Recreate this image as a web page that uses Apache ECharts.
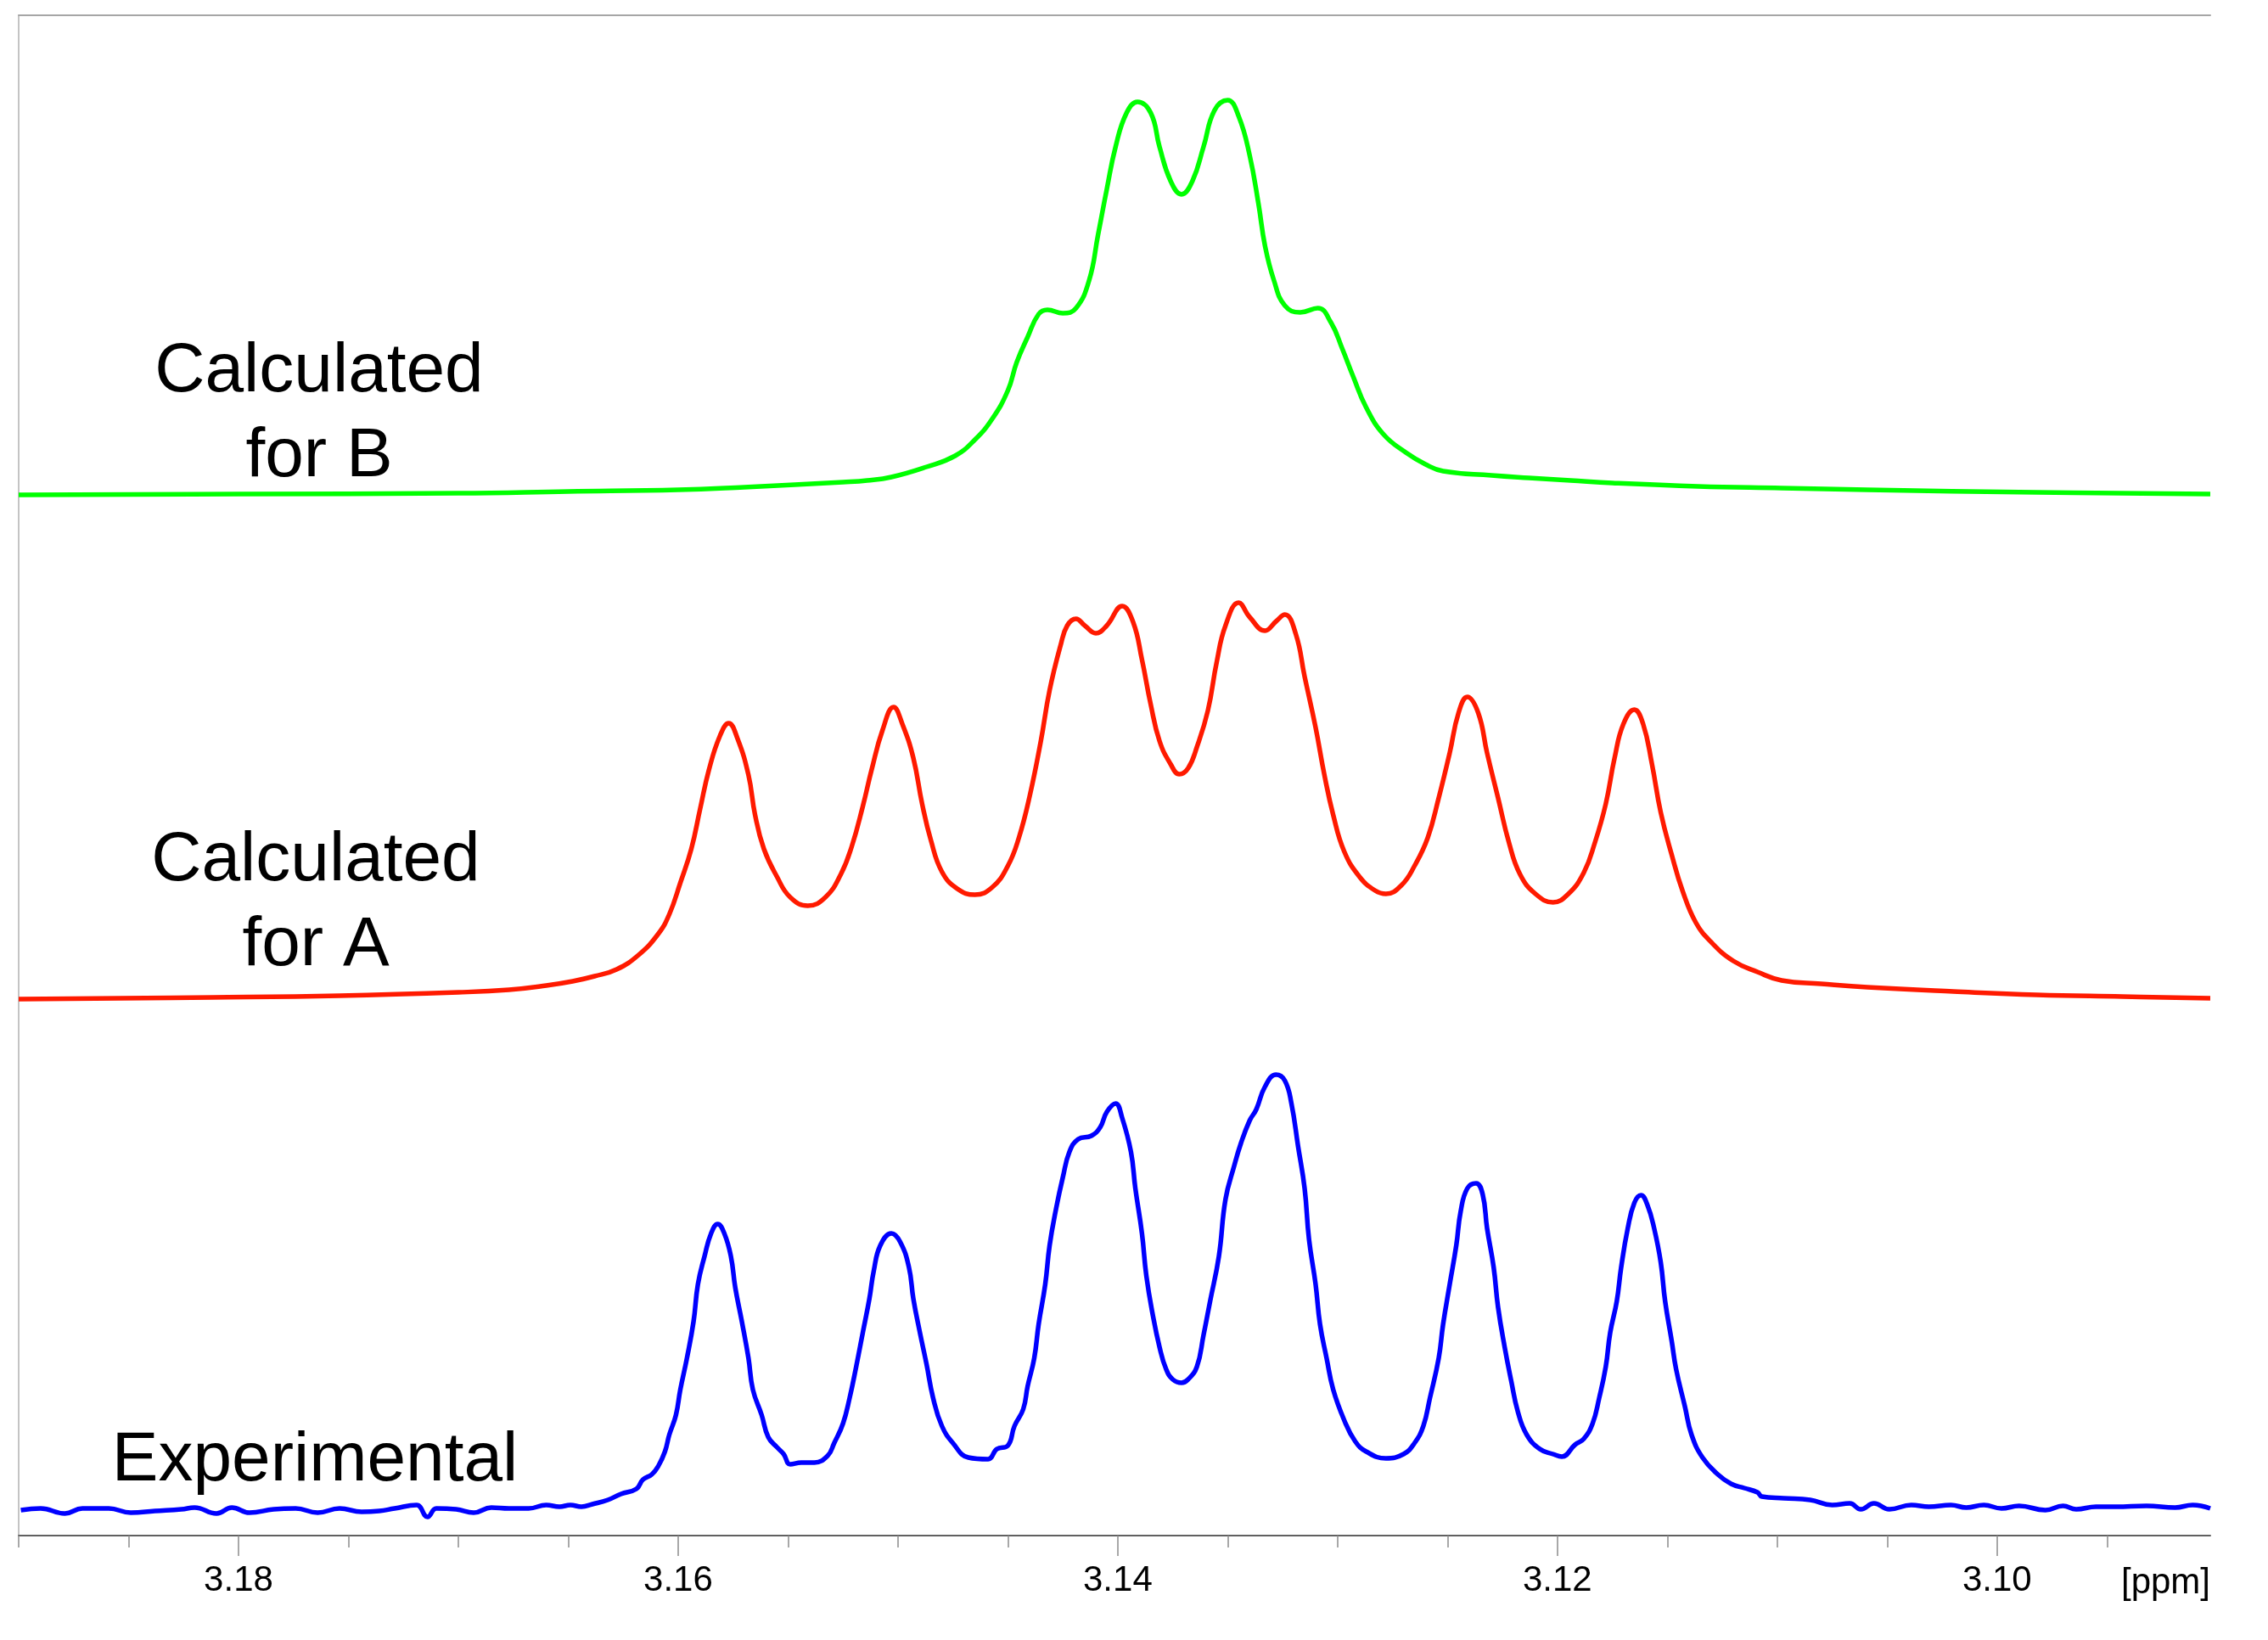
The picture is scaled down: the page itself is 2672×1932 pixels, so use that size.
<!DOCTYPE html>
<html>
<head>
<meta charset="utf-8">
<script src="https://cdn.jsdelivr.net/npm/echarts@6/dist/echarts.min.js"></script>
<style>
  html, body { margin: 0; padding: 0; background: #ffffff; }
  #chart { width: 2672px; height: 1932px; }
</style>
</head>
<body>
<div id="chart"></div>
<script>
// chemical shift axis (ppm, drawn reversed)
const ppmMin = 3.0903
const ppmMax = 3.19
const labelTicks = [3.18, 3.16, 3.14, 3.12, 3.10]
const minorTicks = [3.19, 3.185, 3.18, 3.175, 3.17, 3.165, 3.16, 3.155, 3.15, 3.145, 3.14,
  3.135, 3.13, 3.125, 3.12, 3.115, 3.11, 3.105, 3.10, 3.095]

// Calculated for B (green)
const calcBPpm = [3.1900, 3.1800, 3.1700, 3.1650, 3.1600, 3.1570, 3.1547, 3.1525, 3.1514, 3.1503,
  3.1487, 3.1474, 3.1465, 3.1457, 3.1450, 3.1446, 3.1441, 3.1436, 3.1432, 3.1425,
  3.1419, 3.1413, 3.1409, 3.1405, 3.1401, 3.1396, 3.1391, 3.1385, 3.1381, 3.1376,
  3.1371, 3.1366, 3.1361, 3.1356, 3.1350, 3.1345, 3.1340, 3.1336, 3.1333, 3.1329,
  3.1324, 3.1317, 3.1309, 3.1303, 3.1298, 3.1293, 3.1287, 3.1279, 3.1269, 3.1260,
  3.1252, 3.1230, 3.1213, 3.1194, 3.1175, 3.1136, 3.1098, 3.1059, 3.0982, 3.0903]
const calcBInt = [1, 2, 3, 5, 7, 10, 13, 16, 18, 22,
  34, 47, 66, 91, 124, 157, 187, 214, 219, 215,
  221, 254, 307, 361, 411, 451, 464, 451, 411, 371,
  355, 371, 411, 454, 466, 447, 401, 344, 294, 254,
  224, 216, 221, 204, 174, 141, 104, 72, 51, 37,
  29, 24, 21, 18, 15, 11, 9, 7, 4, 2]

// Calculated for A (red)
const calcAPpm = [3.1900, 3.1812, 3.1754, 3.1700, 3.1677, 3.1660, 3.1648, 3.1638, 3.1628, 3.1618,
  3.1609, 3.1604, 3.1599, 3.1594, 3.1590, 3.1586, 3.1581, 3.1577, 3.1573, 3.1568,
  3.1565, 3.1561, 3.1555, 3.1549, 3.1541, 3.1533, 3.1526, 3.1521, 3.1516, 3.1512,
  3.1507, 3.1502, 3.1498, 3.1493, 3.1489, 3.1485, 3.1480, 3.1473, 3.1465, 3.1457,
  3.1450, 3.1445, 3.1440, 3.1435, 3.1431, 3.1426, 3.1423, 3.1419, 3.1415, 3.1410,
  3.1405, 3.1398, 3.1393, 3.1389, 3.1385, 3.1381, 3.1376, 3.1372, 3.1368, 3.1364,
  3.1359, 3.1355, 3.1351, 3.1345, 3.1340, 3.1333, 3.1328, 3.1324, 3.1319, 3.1315,
  3.1310, 3.1306, 3.1302, 3.1297, 3.1290, 3.1283, 3.1278, 3.1271, 3.1265, 3.1259,
  3.1254, 3.1249, 3.1245, 3.1241, 3.1236, 3.1232, 3.1227, 3.1222, 3.1217, 3.1210,
  3.1202, 3.1195, 3.1188, 3.1183, 3.1178, 3.1174, 3.1170, 3.1165, 3.1161, 3.1157,
  3.1153, 3.1148, 3.1143, 3.1137, 3.1130, 3.1120, 3.1109, 3.1098, 3.1080, 3.1059,
  3.1020, 3.0982, 3.0943, 3.0903]
const calcAInt = [1, 3, 5, 9, 12, 17, 22, 28, 36, 53,
  78, 101, 138, 178, 225, 271, 311, 326, 308, 265,
  218, 178, 145, 121, 111, 121, 148, 181, 228, 271,
  318, 345, 325, 285, 231, 188, 151, 131, 124, 133,
  158, 191, 241, 305, 365, 418, 441, 449, 441, 432,
  441, 464, 445, 401, 348, 305, 278, 266, 273, 298,
  341, 398, 441, 468, 451, 435, 446, 454, 431, 381,
  321, 265, 218, 175, 145, 129, 125, 135, 158, 191,
  238, 291, 338, 357, 338, 291, 238, 185, 148, 125,
  115, 125, 150, 185, 231, 285, 325, 342, 325, 278,
  221, 171, 128, 91, 68, 46, 33, 23, 19, 15,
  10, 6, 4, 2]

// Experimental (blue)
const exptPpm = [3.1899, 3.1890, 3.1879, 3.1871, 3.1859, 3.1849, 3.1838, 3.1826, 3.1820, 3.1810,
  3.1803, 3.1795, 3.1784, 3.1774, 3.1764, 3.1754, 3.1744, 3.1736, 3.1729, 3.1719,
  3.1714, 3.1710, 3.1701, 3.1693, 3.1685, 3.1677, 3.1668, 3.1660, 3.1654, 3.1649,
  3.1644, 3.1639, 3.1632, 3.1626, 3.1619, 3.1616, 3.1612, 3.1609, 3.1606, 3.1604,
  3.1601, 3.1599, 3.1596, 3.1593, 3.1591, 3.1588, 3.1585, 3.1582, 3.1579, 3.1576,
  3.1574, 3.1571, 3.1568, 3.1566, 3.1562, 3.1559, 3.1555, 3.1552, 3.1549, 3.1544,
  3.1538, 3.1532, 3.1529, 3.1525, 3.1522, 3.1519, 3.1516, 3.1513, 3.1511, 3.1508,
  3.1503, 3.1499, 3.1495, 3.1493, 3.1490, 3.1487, 3.1484, 3.1480, 3.1475, 3.1468,
  3.1459, 3.1455, 3.1450, 3.1447, 3.1443, 3.1441, 3.1438, 3.1436, 3.1433, 3.1431,
  3.1428, 3.1425, 3.1422, 3.1418, 3.1412, 3.1408, 3.1405, 3.1401, 3.1398, 3.1394,
  3.1392, 3.1389, 3.1387, 3.1384, 3.1381, 3.1378, 3.1375, 3.1371, 3.1368, 3.1364,
  3.1361, 3.1358, 3.1354, 3.1351, 3.1347, 3.1344, 3.1340, 3.1337, 3.1333, 3.1328,
  3.1324, 3.1321, 3.1318, 3.1315, 3.1313, 3.1310, 3.1308, 3.1305, 3.1302, 3.1297,
  3.1292, 3.1287, 3.1278, 3.1270, 3.1265, 3.1261, 3.1258, 3.1254, 3.1252, 3.1249,
  3.1246, 3.1244, 3.1241, 3.1237, 3.1234, 3.1232, 3.1229, 3.1227, 3.1224, 3.1221,
  3.1218, 3.1214, 3.1208, 3.1202, 3.1198, 3.1192, 3.1188, 3.1184, 3.1181, 3.1178,
  3.1176, 3.1173, 3.1171, 3.1168, 3.1165, 3.1162, 3.1159, 3.1156, 3.1153, 3.1151,
  3.1148, 3.1146, 3.1142, 3.1139, 3.1134, 3.1127, 3.1121, 3.1115, 3.1109, 3.1107,
  3.1097, 3.1085, 3.1075, 3.1067, 3.1062, 3.1056, 3.1049, 3.1039, 3.1031, 3.1021,
  3.1014, 3.1006, 3.0998, 3.0990, 3.0978, 3.0970, 3.0964, 3.0955, 3.0946, 3.0932,
  3.0919, 3.0911, 3.0903]
const exptInt = [0, 2, -4, 2, 2, -3, -1, 1, 3, -4,
  3, -3, 1, 2, -3, 2, -2, -1, 2, 6,
  -8, 2, 1, -3, 3, 2, 2, 6, 4, 6,
  4, 7, 12, 19, 25, 36, 42, 52, 69, 89,
  112, 142, 179, 222, 266, 299, 326, 337, 326, 299,
  262, 222, 179, 142, 112, 86, 74, 66, 54, 56,
  56, 64, 79, 102, 132, 169, 209, 249, 282, 312,
  326, 316, 286, 249, 209, 172, 132, 99, 79, 62,
  60, 72, 76, 99, 119, 146, 179, 219, 266, 312,
  356, 392, 422, 437, 441, 451, 469, 479, 462, 422,
  379, 326, 276, 229, 192, 166, 154, 150, 154, 169,
  206, 246, 299, 366, 406, 432, 459, 472, 499, 513,
  506, 479, 429, 379, 319, 266, 219, 179, 142, 106,
  81, 69, 61, 66, 79, 99, 132, 179, 219, 266,
  312, 352, 379, 385, 372, 332, 286, 239, 192, 152,
  116, 89, 72, 66, 63, 77, 84, 102, 132, 169,
  209, 246, 286, 332, 362, 371, 359, 332, 292, 246,
  199, 166, 122, 89, 62, 42, 31, 26, 21, 16,
  14, 12, 6, 8, 1, 8, 1, 6, 4, 6,
  3, 6, 2, 5, 0, 5, 1, 4, 4, 5,
  3, 6, 2]

const toPairs = (xs, ys) => xs.map((x, i) => [x, ys[i]])

const chart = echarts.init(document.getElementById('chart'))

const hiddenX = (grid) => ({
  type: 'value', gridIndex: grid, inverse: true, min: ppmMin, max: ppmMax, show: false
})
const hiddenY = (grid, min, max) => ({
  type: 'value', gridIndex: grid, min: min, max: max, show: false
})
const trace = (name, axis, data, color, width) => ({
  name: name,
  type: 'line',
  xAxisIndex: axis,
  yAxisIndex: axis - 2,
  data: data,
  showSymbol: false,
  symbol: 'none',
  smooth: 0.45,
  clip: false,
  lineStyle: { color: color, width: width, join: 'round' },
  silent: true
})

const labelFont = '82px "Liberation Sans", Arial, sans-serif'

const option = {
  backgroundColor: '#ffffff',
  animation: false,
  grid: [
    // frame + ppm axis
    { left: 22, width: 2582, top: 18, height: 1791 },
    // green trace, baseline at y=584
    { left: 22, width: 2582, top: 84, height: 500 },
    // red trace, baseline at y=1178
    { left: 22, width: 2582, top: 678, height: 500 },
    // blue trace, baseline at y=1779
    { left: 22, width: 2582, top: 1249, height: 550 }
  ],
  xAxis: [
    {
      type: 'value', gridIndex: 0, position: 'bottom', inverse: true,
      min: ppmMin, max: ppmMax,
      axisLine: { show: true, lineStyle: { color: '#606060', width: 2 } },
      axisTick: {
        show: true, length: 24, customValues: labelTicks,
        lineStyle: { color: '#8c8c8c', width: 1.5 }
      },
      axisLabel: {
        show: true, customValues: labelTicks, margin: 32,
        color: '#000000', fontSize: 42, fontFamily: '"Liberation Sans", Arial, sans-serif',
        formatter: v => v.toFixed(2)
      },
      splitLine: { show: false }
    },
    {
      type: 'value', gridIndex: 0, position: 'bottom', inverse: true,
      min: ppmMin, max: ppmMax,
      axisLine: { show: false },
      axisTick: {
        show: true, length: 14, customValues: minorTicks,
        lineStyle: { color: '#8c8c8c', width: 1.5 }
      },
      axisLabel: { show: false },
      splitLine: { show: false }
    },
    {
      type: 'value', gridIndex: 0, position: 'top', inverse: true,
      min: ppmMin, max: ppmMax,
      axisLine: { show: true, lineStyle: { color: '#a6a6a6', width: 2 } },
      axisTick: { show: false },
      axisLabel: { show: false },
      splitLine: { show: false }
    },
    hiddenX(1),
    hiddenX(2),
    hiddenX(3)
  ],
  yAxis: [
    {
      type: 'value', gridIndex: 0, min: 0, max: 1,
      axisLine: { show: true, lineStyle: { color: '#b0b0b0', width: 1.5 } },
      axisTick: { show: false },
      axisLabel: { show: false },
      splitLine: { show: false }
    },
    hiddenY(1, 0, 500),
    hiddenY(2, 0, 500),
    hiddenY(3, -20, 530)
  ],
  series: [
    trace('Calculated for B', 3, toPairs(calcBPpm, calcBInt), '#00ff00', 5.5),
    trace('Calculated for A', 4, toPairs(calcAPpm, calcAInt), '#ff1a00', 5.5),
    trace('Experimental', 5, toPairs(exptPpm, exptInt), '#0000ff', 5.5)
  ],
  graphic: [
    {
      type: 'text', x: 376, y: 388,
      style: {
        text: 'Calculated\nfor B', font: labelFont, fill: '#000000',
        textAlign: 'center', textVerticalAlign: 'top', lineHeight: 100
      }
    },
    {
      type: 'text', x: 372, y: 964,
      style: {
        text: 'Calculated\nfor A', font: labelFont, fill: '#000000',
        textAlign: 'center', textVerticalAlign: 'top', lineHeight: 100
      }
    },
    {
      type: 'text', x: 371, y: 1671,
      style: {
        text: 'Experimental', font: labelFont, fill: '#000000',
        textAlign: 'center', textVerticalAlign: 'top', lineHeight: 100
      }
    },
    {
      type: 'text', x: 2604, y: 1841,
      style: {
        text: '[ppm]', font: '42px "Liberation Sans", Arial, sans-serif', fill: '#000000',
        textAlign: 'right', textVerticalAlign: 'top', lineHeight: 48
      }
    }
  ]
}

chart.setOption(option)
</script>
</body>
</html>
